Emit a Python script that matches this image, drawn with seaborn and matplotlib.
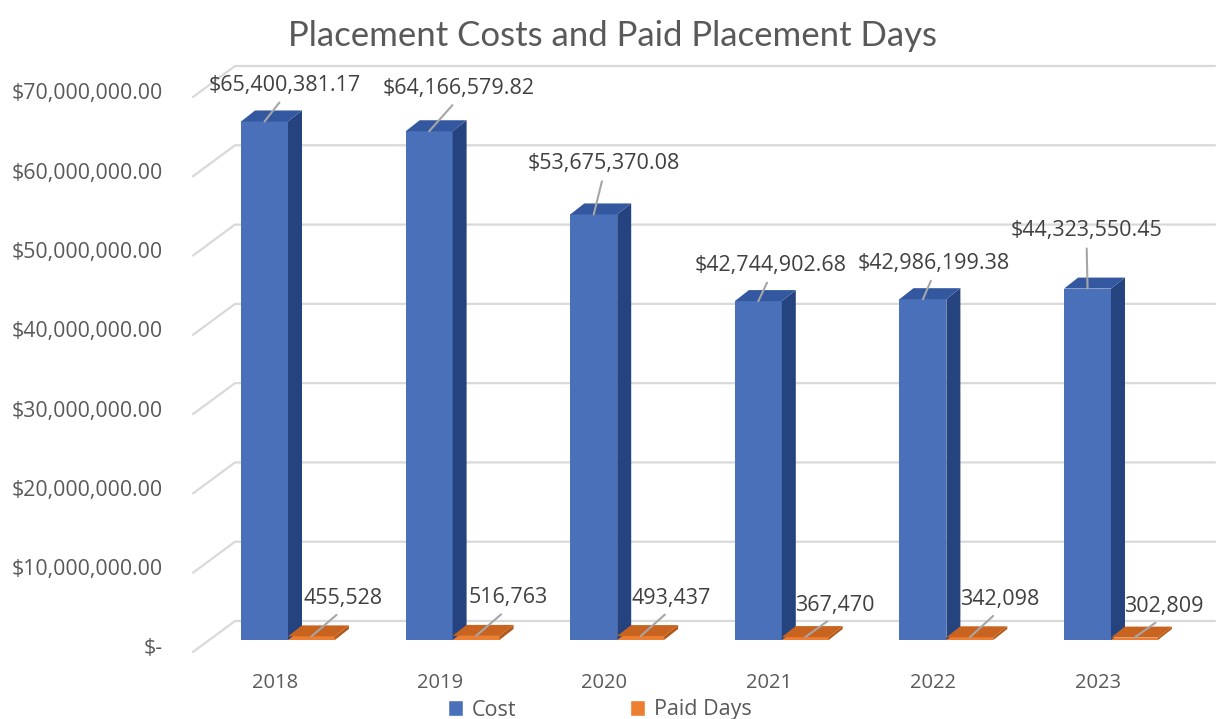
import pandas as pd
import matplotlib
matplotlib.use('Agg')
import matplotlib.pyplot as plt
from matplotlib.patches import Polygon, Patch
import seaborn as sns

# donnees
years = ['2018', '2019', '2020', '2021', '2022', '2023']
cost = [65400381.17, 64166579.82, 53675370.08, 42744902.68, 42986199.38, 44323550.45]
paid_days = [455528, 516763, 493437, 367470, 342098, 302809]
cost_labels = ['$65,400,381.17', '$64,166,579.82', '$53,675,370.08',
               '$42,744,902.68', '$42,986,199.38', '$44,323,550.45']
paid_labels = ['455,528', '516,763', '493,437', '367,470', '342,098', '302,809']
yticks = [0, 10e6, 20e6, 30e6, 40e6, 50e6, 60e6, 70e6]
ytick_labels = ['$-', '$10,000,000.00', '$20,000,000.00', '$30,000,000.00',
                '$40,000,000.00', '$50,000,000.00', '$60,000,000.00', '$70,000,000.00']

# positions des etiquettes (decalage en pixels depuis le haut de la barre)
cost_lab_off = [(20, 36), (29, 43), (10, 51), (12, 36), (11, 36), (-1, 58)]
paid_lab_off = [(32, 38), (32, 38), (31, 38), (30, 32), (30, 38), (29, 31)]

df = pd.DataFrame({
    'year': years * 2,
    'value': cost + paid_days,
    'series': ['Cost'] * 6 + ['Paid Days'] * 6,
})

sns.set_style('white')
plt.rcParams['font.family'] = ['Open Sans', 'DejaVu Sans']
grey = '#595959'

W, H = 1224, 719
fig = plt.figure(figsize=(W / 100, H / 100), dpi=100)
x0, x1 = -0.7, 5.6
sx_px = 164.6
ax = fig.add_axes([(288 + x0 * sx_px) / W, 79 / H, (x1 - x0) * sx_px / W, 555 / H])

blue = '#4a70b9'
orange = '#ed7d31'
sns.barplot(data=df, x='year', y='value', hue='series', palette=[blue, orange],
            width=0.57, dodge=True, saturation=1, ax=ax, legend=False, zorder=3,
            linewidth=0, edgecolor='none')
ax.set_xlim(x0, x1)
ax.set_ylim(0, 70e6)
ax.axis('off')

# conversion pixels -> donnees
p0 = ax.transData.transform((0, 0))
p1 = ax.transData.transform((1, 1e6))
sx = p1[0] - p0[0]
sy = (p1[1] - p0[1]) / 1e6


def dx(px):
    return px / sx


def dy(px):
    return px / sy


# mur du fond et lignes de grille
x_wall = dx(209 - 288)
for v in yticks:
    xs = [x_wall - dx(16), x_wall + dx(26), dx(1215 - 288)]
    ys = [v - dy(12), v + dy(19), v + dy(19)]
    ax.plot(xs, ys, color='#d9d9d9', lw=1.6, zorder=0, clip_on=False)
for v, lab in zip(yticks, ytick_labels):
    ax.text(dx(163 - 288), v - dy(9), lab, ha='right', va='center',
            fontsize=15.3, color=grey, clip_on=False)

# faces 3D des barres
faces = {blue: ('#34589f', '#25447f'), orange: ('#c8641f', '#b35818')}
ddx, ddy = dx(14), dy(11)
n = len(years)
for k, bar in enumerate(ax.patches[:2 * n]):
    x = bar.get_x()
    w = bar.get_width()
    h = bar.get_height()
    col = blue if k < n else orange
    top_c, side_c = faces[col]
    side = Polygon([(x + w, 0), (x + w + ddx, ddy), (x + w + ddx, h + ddy), (x + w, h)],
                   closed=True, facecolor=side_c, edgecolor='none', zorder=3)
    top = Polygon([(x, h), (x + ddx, h + ddy), (x + w + ddx, h + ddy), (x + w, h)],
                  closed=True, facecolor=top_c, edgecolor='none', zorder=3)
    ax.add_patch(side)
    ax.add_patch(top)

# etiquettes de donnees avec lignes de rappel
cost_bars = ax.patches[:n]
paid_bars = ax.patches[n:2 * n]
for bar, lab, off in zip(cost_bars, cost_labels, cost_lab_off):
    xc = bar.get_x() + bar.get_width() / 2
    h = bar.get_height()
    ax.annotate(lab, xy=(xc, h), xytext=(xc + dx(off[0]), h + dy(off[1])),
                ha='center', va='center', fontsize=15.5, color='#404040', zorder=5,
                arrowprops=dict(arrowstyle='-', color='#a6a6a6', lw=1.5,
                                relpos=(0.5, 0), shrinkA=3, shrinkB=0))
for bar, lab, off in zip(paid_bars, paid_labels, paid_lab_off):
    xc = bar.get_x() + bar.get_width() / 2
    h = bar.get_height()
    ax.annotate(lab, xy=(xc, h), xytext=(xc + dx(off[0]), h + dy(off[1])),
                ha='center', va='center', fontsize=15.5, color='#404040', zorder=5,
                arrowprops=dict(arrowstyle='-', color='#a6a6a6', lw=1.5,
                                relpos=(0.5, 0), shrinkA=3, shrinkB=0))

# annees
for i, yr in enumerate(years):
    ax.text(i - dx(13), -dy(43), yr, ha='center', va='center',
            fontsize=14.5, color=grey, clip_on=False)

fig.suptitle('Placement Costs and Paid Placement Days', x=0.5, y=1 - 36 / H,
             va='center', fontsize=25, color=grey, family=['Lato', 'DejaVu Sans'])

handles = [Patch(facecolor=blue, label='Cost'), Patch(facecolor=orange, label='Paid Days')]
fig.legend(handles=handles, loc='center', bbox_to_anchor=(600 / W, 1 - 710 / H),
           ncol=2, frameon=False, fontsize=15.5, labelcolor=grey,
           handlelength=0.7, handleheight=0.7, handletextpad=0.4, columnspacing=5.3)

fig.savefig('out.png', dpi=100)
